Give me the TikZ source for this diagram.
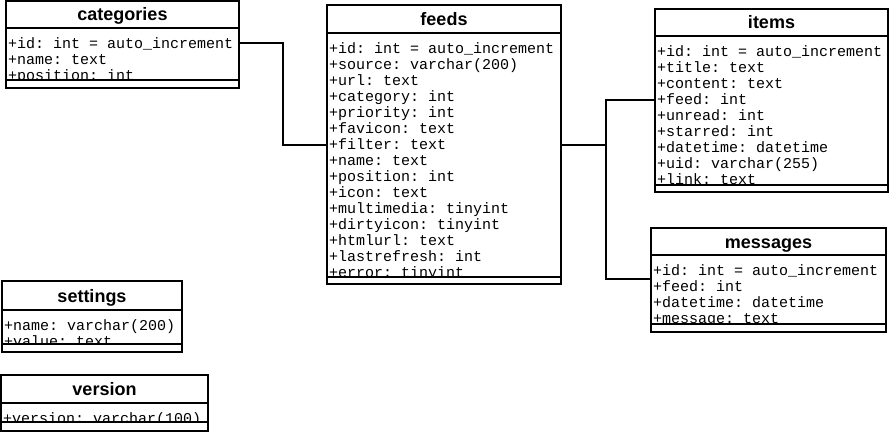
\documentclass[tikz,border=0pt]{standalone}
\usepackage{fontspec}
\setmainfont{Liberation Sans}
\setmonofont{Liberation Mono}
\usetikzlibrary{positioning,calc}

\newcommand{\rowstrut}{\rule{0pt}{12.5pt}}

\tikzset{
	tabletitle/.style={draw,line width=1.5pt,inner sep=0pt,outer sep=0pt,anchor=north west,
		font=\bfseries\fontsize{18}{20}\selectfont,text height=16pt,text depth=3pt},
	tablebody/.style={draw,line width=1.5pt,inner sep=0pt,outer sep=0pt},
	tablefoot/.style={draw,fill=white,line width=1.5pt,inner sep=0pt,outer sep=0pt},
	tablerows/.style={anchor=north west,inner xsep=2pt,inner ysep=7.5pt,align=left,
		font=\ttfamily\fontsize{15}{16}\selectfont},
	link/.style={line width=1.5pt}
}

\begin{document}
\begin{tikzpicture}[x=1pt,y=-1pt]
	\useasboundingbox (0,0) rectangle (891,433);
	% categories
	\node[tabletitle,minimum width=233pt,minimum height=27pt] (categories) at (6,1) {categories};
	\node[tablebody,minimum width=233pt,minimum height=52pt,below=0pt of categories] (categories-body) {};
	\node[tablerows] (categories-rows) at (categories-body.north west) {\rowstrut+id: int = auto\_increment\\+name: text\\+position: int};
	\node[tablefoot,minimum width=233pt,minimum height=8pt,below=0pt of categories-body] (categories-foot) {};
	% feeds
	\node[tabletitle,minimum width=234pt,minimum height=28pt] (feeds) at (327,5) {feeds};
	\node[tablebody,minimum width=234pt,minimum height=244pt,below=0pt of feeds] (feeds-body) {};
	\node[tablerows] (feeds-rows) at (feeds-body.north west) {\rowstrut+id: int = auto\_increment\\+source: varchar(200)\\+url: text\\+category: int\\+priority: int\\+favicon: text\\+filter: text\\+name: text\\+position: int\\+icon: text\\+multimedia: tinyint\\+dirtyicon: tinyint\\+htmlurl: text\\+lastrefresh: int\\+error: tinyint};
	\node[tablefoot,minimum width=234pt,minimum height=7pt,below=0pt of feeds-body] (feeds-foot) {};
	% items
	\node[tabletitle,minimum width=233pt,minimum height=27pt] (items) at (655,9) {items};
	\node[tablebody,minimum width=233pt,minimum height=149pt,below=0pt of items] (items-body) {};
	\node[tablerows] (items-rows) at (items-body.north west) {\rowstrut+id: int = auto\_increment\\+title: text\\+content: text\\+feed: int\\+unread: int\\+starred: int\\+datetime: datetime\\+uid: varchar(255)\\+link: text};
	\node[tablefoot,minimum width=233pt,minimum height=7pt,below=0pt of items-body] (items-foot) {};
	% messages
	\node[tabletitle,minimum width=235pt,minimum height=27pt] (messages) at (651,228) {messages};
	\node[tablebody,minimum width=235pt,minimum height=69pt,below=0pt of messages] (messages-body) {};
	\node[tablerows] (messages-rows) at (messages-body.north west) {\rowstrut+id: int = auto\_increment\\+feed: int\\+datetime: datetime\\+message: text};
	\node[tablefoot,minimum width=235pt,minimum height=8pt,below=0pt of messages-body] (messages-foot) {};
	% settings
	\node[tabletitle,minimum width=180pt,minimum height=29pt] (settings) at (2,281) {settings};
	\node[tablebody,minimum width=180pt,minimum height=34pt,below=0pt of settings] (settings-body) {};
	\node[tablerows] (settings-rows) at (settings-body.north west) {\rowstrut+name: varchar(200)\\+value: text};
	\node[tablefoot,minimum width=180pt,minimum height=8pt,below=0pt of settings-body] (settings-foot) {};
	% version
	\node[tabletitle,minimum width=207pt,minimum height=28pt] (version) at (1,375) {version};
	\node[tablebody,minimum width=207pt,minimum height=19pt,below=0pt of version] (version-body) {};
	\node[tablerows] (version-rows) at (version-body.north west) {\rowstrut+version: varchar(100)};
	\node[tablefoot,minimum width=207pt,minimum height=9pt,below=0pt of version-body] (version-foot) {};
	% links
	\coordinate (cat-out) at (categories-body.east |- 0,43);
	\coordinate (feeds-in) at (feeds-body.west |- 0,145);
	\coordinate (feeds-out) at (feeds-body.east |- 0,145);
	\coordinate (items-in) at (items-body.west |- 0,100);
	\coordinate (msg-in) at (messages-body.west |- 0,279);
	\coordinate (feeds-fork) at ($(feeds-out)!0.5!(msg-in)$);
	\draw[link] (cat-out) -| ($(cat-out)!0.5!(feeds-in)$) |- (feeds-in);
	\draw[link] (feeds-out) -| (feeds-fork) |- (items-in);
	\draw[link] (feeds-fork) |- (msg-in);
\end{tikzpicture}
\end{document}
